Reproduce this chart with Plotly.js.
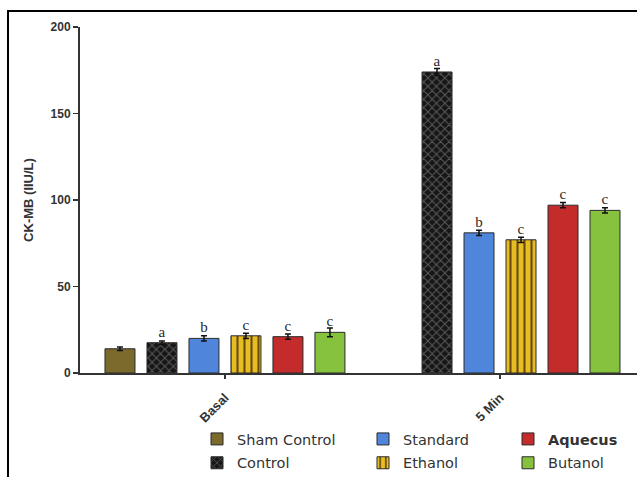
<!DOCTYPE html>
<html>
<head>
<meta charset="utf-8">
<script src="https://cdn.plot.ly/plotly-3.0.1.min.js"></script>
<style>
html,body{margin:0;padding:0;background:#fff;}
#wrap{position:relative;width:637px;height:477px;overflow:hidden;}
#chart{width:637px;height:477px;}
#frame{position:absolute;left:7px;top:10px;width:700px;height:600px;border-left:2px solid #000;border-top:2px solid #000;pointer-events:none;}
</style>
</head>
<body>
<div id="wrap"><div id="chart"></div><div id="frame"></div></div>
<script>
// ---- data ----
const categories = ["Basal", "5 Min"];
const seriesNames = ["Sham Control", "Control", "Standard", "Ethanol", "<b>Aquecus</b>", "Butanol"];
const shamControl = [14, null];
const control     = [17.5, 174];
const standard    = [20, 81];
const ethanol     = [21.5, 77];
const aquecus     = [21, 97];
const butanol     = [23.5, 94];
const shamErr     = [1, 0];
const controlErr  = [1, 2];
const standardErr = [1.5, 1.5];
const ethanolErr  = [1.5, 1.5];
const aquecusErr  = [1.5, 1.5];
const butanolErr  = [2.5, 1.5];
const shamLetters     = ["", ""];
const controlLetters  = ["a", "a"];
const standardLetters = ["b", "b"];
const ethanolLetters  = ["c", "c"];
const aquecusLetters  = ["c", "c"];
const butanolLetters  = ["c", "c"];

const values = [shamControl, control, standard, ethanol, aquecus, butanol];
const errs = [shamErr, controlErr, standardErr, ethanolErr, aquecusErr, butanolErr];
const letters = [shamLetters, controlLetters, standardLetters, ethanolLetters, aquecusLetters, butanolLetters];

const styles = [
  {color: "#7a6a2c", pattern: null, legend: "legend"},
  {color: "#161616", pattern: {shape: "x", fgcolor: "#5a5a5a", bgcolor: "#161616", size: 6, solidity: 0.3}, legend: "legend"},
  {color: "#4f86dc", pattern: null, legend: "legend2"},
  {color: "#e6be22", pattern: {shape: "|", fgcolor: "#6b4a12", bgcolor: "#e6be22", size: 7, solidity: 0.3}, legend: "legend2"},
  {color: "#c42b2b", pattern: null, legend: "legend3"},
  {color: "#86c23e", pattern: null, legend: "legend3"}
];

const traces = seriesNames.map((n, i) => {
  const m = {color: styles[i].color, line: {color: "#2a2a2a", width: 1}};
  if (styles[i].pattern) m.pattern = styles[i].pattern;
  return {
    type: "bar",
    name: n,
    x: categories,
    y: values[i],
    marker: m,
    error_y: {type: "data", array: errs[i], visible: true, color: "#111", thickness: 1.5, width: 3},
    text: letters[i],
    textposition: "outside",
    cliponaxis: false,
    textfont: {family: "Liberation Serif, DejaVu Serif, serif", size: 15, color: "#2a2a2a"},
    legend: styles[i].legend,
    legendgroup: "g" + i,
    hoverinfo: "skip"
  };
});

const W = 637, H = 477, L = 80, R = 0, T = 27, B = 104;
const pw = W - L - R, ph = H - T - B;
const px = v => (v - L) / pw;
const py = v => (H - B - v) / ph;

const legendBase = {
  orientation: "v", yanchor: "top", xanchor: "left",
  y: py(423), bgcolor: "rgba(0,0,0,0)", tracegroupgap: 2,
  font: {family: "DejaVu Sans, Arial, sans-serif", size: 14.5, color: "#333"}
};

const layout = {
  width: W, height: H,
  margin: {l: L, r: R, t: T, b: B, pad: 0, autoexpand: false},
  paper_bgcolor: "#fff", plot_bgcolor: "#fff",
  barmode: "group", bargap: 0.084, bargroupgap: 0.286,
  showlegend: true,
  xaxis: {
    type: "category",
    range: [-0.527, 1.498],
    showline: true, linecolor: "#333", linewidth: 2,
    ticks: "outside", ticklen: 4, tickwidth: 1.5, tickcolor: "#333",
    tickangle: -45, ticklabelstandoff: 6,
    tickfont: {family: "Liberation Sans, Arial, sans-serif", size: 13, weight: "bold", color: "#333"},
    showgrid: false, zeroline: false, fixedrange: true, automargin: false
  },
  yaxis: {
    range: [0, 200],
    tickvals: [0, 50, 100, 150, 200],
    showline: true, linecolor: "#333", linewidth: 2,
    ticks: "outside", ticklen: 5, tickwidth: 1.5, tickcolor: "#333",
    tickfont: {family: "Liberation Sans, Arial, sans-serif", size: 12, weight: "bold", color: "#333"},
    title: {text: "CK-MB (IIU/L)", standoff: 14, font: {family: "Liberation Sans, Arial, sans-serif", size: 13, weight: "bold", color: "#333"}},
    showgrid: false, zeroline: false, fixedrange: true, automargin: false
  },
  legend: Object.assign({}, legendBase, {x: px(197)}),
  legend2: Object.assign({}, legendBase, {x: px(363)}),
  legend3: Object.assign({}, legendBase, {x: px(508)})
};

Plotly.newPlot("chart", traces, layout, {displayModeBar: false, staticPlot: true});
</script>
</body>
</html>
